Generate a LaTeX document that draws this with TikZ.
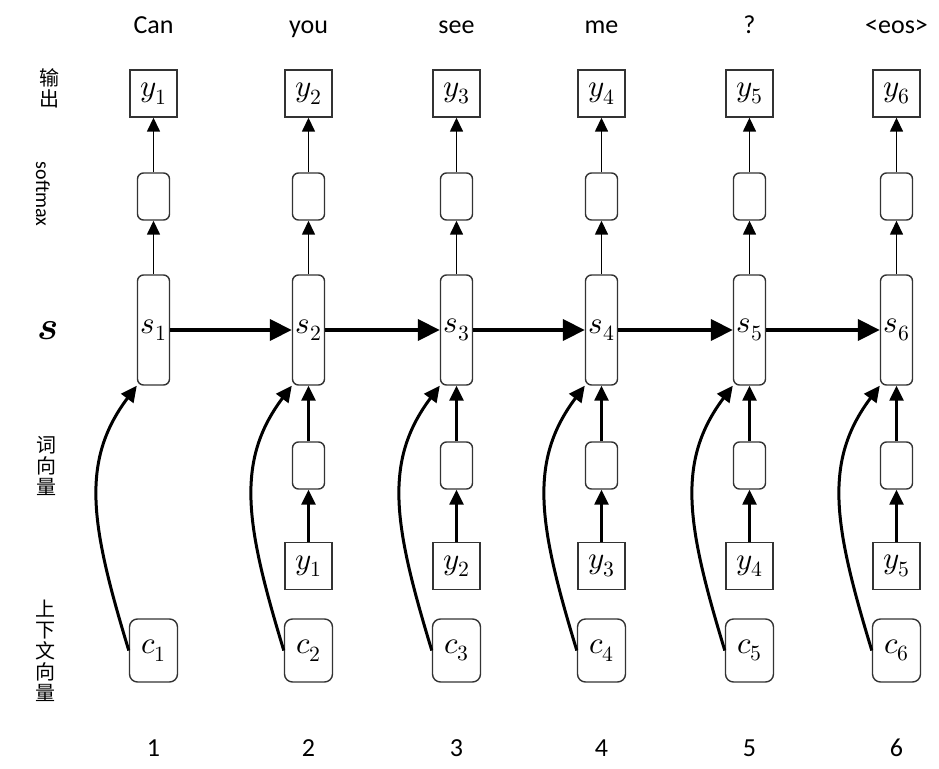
\documentclass[tikz,border=0pt]{standalone}
\usepackage{amsmath}
\usepackage{fontspec}
\usepackage{unicode-math}
\setmainfont{Carlito}
\setmathfont{Latin Modern Math}
\newfontfamily\cjk{Noto Sans CJK SC}
\usetikzlibrary{arrows.meta}
\begin{document}
\begin{tikzpicture}[x=1pt,y=-1pt,
  box/.style={draw=black!80, line width=1.4pt, inner sep=0pt, font=\fontsize{31}{34}\selectfont},
  ybox/.style={box, minimum width=47pt, minimum height=47pt},
  smallbox/.style={box, rounded corners=6pt, minimum width=32pt, minimum height=47pt},
  sbox/.style={box, rounded corners=6pt, minimum width=32pt, minimum height=110pt},
  cbox/.style={box, rounded corners=8pt, minimum width=48pt, minimum height=63pt},
  word/.style={anchor=base, font=\fontsize{26}{30}\selectfont},
  vlab/.style={align=center, inner sep=0pt, font=\cjk\fontsize{20}{21}\selectfont},
  thinarr/.style={line width=1.5pt, -{Triangle[length=14pt,width=13pt]}},
  midarr/.style={line width=2.5pt, -{Triangle[length=15pt,width=14pt]}},
  thickarr/.style={line width=4pt, -{Triangle[length=22pt,width=21pt]}},
  curvarr/.style={line width=3pt, -{Triangle[length=16pt,width=15pt]}}
]
\useasboundingbox (0,0) rectangle (939,768);
% left labels
\node[vlab] (lout) at (49,88) {输\\出};
\node[rotate=-90, inner sep=0pt, font=\fontsize{20}{22}\selectfont] (lsm) at (43,194) {softmax};
\node[inner sep=0pt, font=\fontsize{40}{42}\selectfont] (ls) at (48,331) {$\symbfit{s}$};
\node[vlab] (lemb) at (46,466) {词\\向\\量};
\node[vlab] (lctx) at (45,651) {上\\下\\文\\向\\量};
% columns
\foreach \x/\i/\w in {153.5/1/Can, 308.5/2/you, 456.5/3/see, 601.5/4/me, 749.5/5/?, 896.5/6/<eos>} {
  \node[word] (w\i) at (\x,34) {\w};
  \node[word] (n\i) at (\x,756) {\i};
  \node[ybox] (yo\i) at (\x,93.5) {$y_{\i}$};
  \node[smallbox] (sm\i) at (\x,196.5) {};
  \node[sbox] (s\i) at (\x,330) {$s_{\i}$};
  \node[cbox] (c\i) at (\x,650.5) {$c_{\i}$};
  \draw[thinarr] (sm\i) -- (yo\i);
  \draw[thinarr] (s\i) -- (sm\i);
  \draw[curvarr] (c\i.west) .. controls +(-38,-125) and +(-57,76) .. (s\i.south west);
}
\foreach \x/\i/\p in {308.5/2/1, 456.5/3/2, 601.5/4/3, 749.5/5/4, 896.5/6/5} {
  \node[smallbox] (e\i) at (\x,465.5) {};
  \node[ybox] (p\i) at (\x,566) {$y_{\p}$};
  \draw[midarr] (e\i) -- (s\i);
  \draw[midarr] (p\i) -- (e\i);
}
\foreach \i/\j in {1/2,2/3,3/4,4/5,5/6} {
  \draw[thickarr] (s\i) -- (s\j);
}
\end{tikzpicture}
\end{document}
